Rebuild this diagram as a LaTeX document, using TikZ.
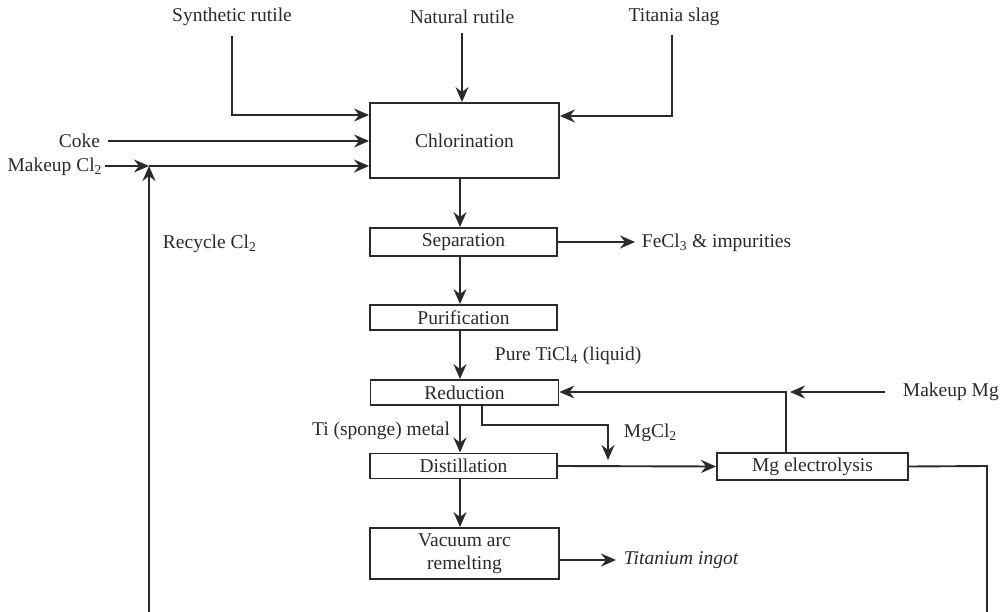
\documentclass[tikz,border=0pt]{standalone}
\usepackage{fontspec}
\setmainfont{Liberation Serif}
\usetikzlibrary{arrows.meta}
\definecolor{ink}{HTML}{2A2A2A}
\newcommand{\fs}{\fontsize{19.5}{23.5}\selectfont}
\begin{document}
\begin{tikzpicture}[x=1pt,y=-1pt,
  line width=1.9pt, color=ink,
  box/.style={draw, rectangle, inner sep=0pt, font=\fs, align=center},
  lbl/.style={inner sep=0pt, font=\fs},
  arr/.style={-{Stealth[length=15pt,width=13pt,inset=5pt]}},
]
\useasboundingbox (0,0) rectangle (1003,612);
% boxes
\node[box, minimum width=189pt, minimum height=75pt] (chl) at (464.5,140.5) {Chlorination};
\node[box, minimum width=187pt, minimum height=28pt] (sep) at (463.5,242) {Separation};
\node[box, minimum width=187pt, minimum height=25pt] (pur) at (463.5,317.5) {Purification};
\node[box, minimum width=188pt, minimum height=25pt] (red) at (464.5,392.5) {Reduction};
\node[box, minimum width=187pt, minimum height=25pt] (dist) at (463.5,466) {Distillation};
\node[box, minimum width=191pt, minimum height=27pt] (mg) at (812.5,466.5) {Mg electrolysis};
\node[box, minimum width=189pt, minimum height=51pt] (var) at (464.5,553.5) {Vacuum arc\\remelting};
% labels
\node[lbl] (sr) at (232,17) {Synthetic rutile};
\node[lbl] (nr) at (462,17) {Natural rutile};
\node[lbl] (ts) at (674,17) {Titania slag};
\node[lbl, anchor=east] (coke) at (101,141) {Coke};
\node[lbl, anchor=east] (mcl) at (103,167) {Makeup Cl\textsubscript{2}};
\node[lbl, anchor=west] (rcl) at (162,244) {Recycle Cl\textsubscript{2}};
\node[lbl, anchor=west] (fe) at (641,243) {FeCl\textsubscript{3} \& impurities};
\node[lbl, anchor=west] (pure) at (494,356) {Pure TiCl\textsubscript{4} (liquid)};
\node[lbl, anchor=east] (tis) at (451,431) {Ti (sponge) metal};
\node[lbl, anchor=west] (mgcl) at (623,433) {MgCl\textsubscript{2}};
\node[lbl, anchor=west] (mmg) at (902,392) {Makeup Mg};
\node[lbl, anchor=west, font=\fs\itshape] (ti) at (623,560) {Titanium ingot};
% helper coordinates
\coordinate (ax) at (460,0);
\coordinate (srb) at (232,115);
\coordinate (tsb) at (672,116);
\coordinate (j) at (149,166);
\coordinate (lb) at (149,612);
\coordinate (m0) at (482,0);
\coordinate (m1) at (482,425);
\coordinate (m2) at (608,425);
\coordinate (m3) at (608,460);
\coordinate (k0) at (786,0);
\coordinate (k) at (786,392);
\coordinate (kt) at (790,392);
\coordinate (r1) at (987,466);
\coordinate (r2) at (987,612);
\coordinate (vy) at (0,560);
% feed arrows
\draw[arr, shorten <=9pt] (sr.south) -- (sr.south |- srb) -- (chl.west |- srb);
\draw[arr, shorten <=8pt] (nr.south) -- (nr.south |- chl.north);
\draw[arr, shorten <=8pt] (ts.south -| tsb) -- (tsb) -- (chl.east |- tsb);
\draw[arr, shorten <=7pt] (coke.east) -- (chl.west |- coke.east);
\draw[arr, shorten <=2pt] (mcl.east |- j) -- (j);
\draw[arr] (j) -- (chl.west |- j);
\draw[arr] (lb) -- (j);
% main chain
\draw[arr] (chl.south -| ax) -- (sep.north -| ax);
\draw[arr, shorten >=6pt] (sep.east) -- (fe.west |- sep.east);
\draw[arr] (sep.south -| ax) -- (pur.north -| ax);
\draw[arr] (pur.south -| ax) -- (red.north -| ax);
\draw[arr] (red.south -| ax) -- (dist.north -| ax);
\draw[arr] (red.south -| m0) -- (m1) -- (m2) -- (m3);
\draw[arr] (dist.east) -- (mg.west);
\draw[arr] (mg.north -| k0) -- (k) -- (red.east |- k);
\draw[arr, shorten <=17pt] (mmg.west) -- (kt);
\draw (mg.east) -- (r1) -- (r2);
\draw[arr] (dist.south -| ax) -- (var.north -| ax);
\draw[arr, shorten >=7pt] (var.east |- vy) -- (ti.west |- vy);
\end{tikzpicture}
\end{document}
